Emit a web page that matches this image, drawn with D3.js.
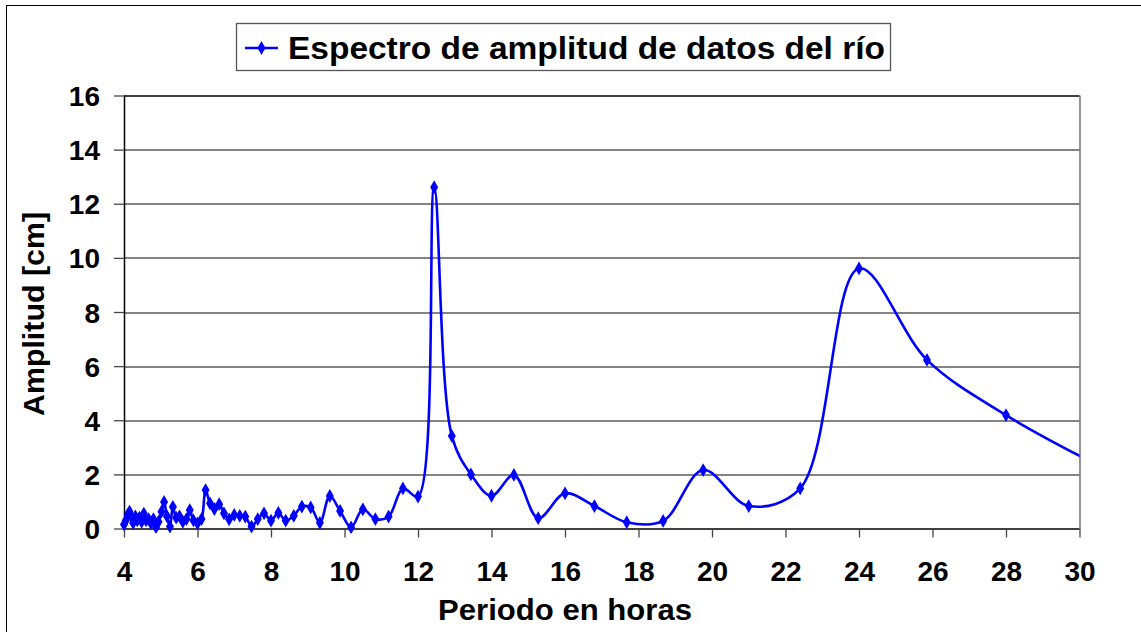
<!DOCTYPE html>
<html>
<head>
<meta charset="utf-8">
<script src="https://cdn.jsdelivr.net/npm/d3@7"></script>
<style>
  body { margin: 0; background: #fff; }
  svg text { font-family: "Liberation Sans", Arial, sans-serif; font-weight: bold; }
</style>
</head>
<body>
<div id="vis"></div>
<script>
var width = 1141,
  height = 632;

// periodo (horas) of each spectral point
var periods = [
  4.00, 4.05, 4.10, 4.15, 4.20, 4.25, 4.31, 4.36, 4.42, 4.48,
  4.54, 4.60, 4.67, 4.73, 4.80, 4.87, 4.94, 5.02, 5.09, 5.17,
  5.25, 5.33, 5.42, 5.51, 5.60, 5.70, 5.79, 5.89, 6.00, 6.11,
  6.22, 6.34, 6.46, 6.59, 6.72, 6.86, 7.00, 7.15, 7.30, 7.47,
  7.64, 7.81, 8.00, 8.20, 8.40, 8.62, 8.84, 9.08, 9.33, 9.60,
  9.88, 10.18, 10.50, 10.84, 11.20, 11.59, 12.00, 12.44, 12.92, 13.44,
  14.00, 14.61, 15.27, 16.00, 16.80, 17.68, 18.67, 19.76, 21.00, 22.40,
  24.00, 25.85, 28.00, 30.55
];
// amplitud (cm)
var amplitudes = [
  0.15, 0.30, 0.50, 0.62, 0.45, 0.20, 0.45, 0.30, 0.40, 0.25,
  0.55, 0.30, 0.35, 0.20, 0.35, 0.05, 0.25, 0.62, 0.98, 0.45,
  0.07, 0.80, 0.40, 0.45, 0.25, 0.35, 0.68, 0.30, 0.19, 0.35,
  1.42, 0.93, 0.72, 0.90, 0.56, 0.34, 0.50, 0.47, 0.44, 0.07,
  0.35, 0.56, 0.29, 0.58, 0.29, 0.47, 0.81, 0.78, 0.21, 1.20,
  0.65, 0.04, 0.71, 0.35, 0.44, 1.48, 1.18, 12.61, 3.42, 2.00,
  1.21, 1.98, 0.38, 1.30, 0.83, 0.23, 0.28, 2.16, 0.83, 1.48,
  9.61, 6.23, 4.19, 2.30
];

var xTicks = [4, 6, 8, 10, 12, 14, 16, 18, 20, 22, 24, 26, 28, 30];
var yTicks = [0, 2, 4, 6, 8, 10, 12, 14, 16];

var seriesName = "Espectro de amplitud de datos del río";
var xTitle = "Periodo en horas";
var yTitle = "Amplitud [cm]";

var data = periods.map((p, i) => ({ x: p, y: amplitudes[i] }));

var margin = { top: 95.5, right: 61.5, bottom: 103.5, left: 124 };
var plotW = width - margin.left - margin.right,
  plotH = height - margin.top - margin.bottom;

var svg = d3.select("#vis")
  .append("svg")
  .attr("width", width)
  .attr("height", height);

// outer chart frame
svg.append("rect")
  .attr("x", 6.5)
  .attr("y", 5.5)
  .attr("width", width + 20)
  .attr("height", height + 20)
  .style("fill", "#fff")
  .style("stroke", "#000")
  .attr("stroke-width", 1);

var x = d3.scaleLinear().domain([4, 30]).range([0, plotW]);
var y = d3.scaleLinear().domain([0, 16]).range([plotH, 0]);

var g = svg.append("g")
  .attr("transform", "translate(" + margin.left + "," + margin.top + ")");

// horizontal gridlines
g.append("g")
  .selectAll("line")
  .data(yTicks.filter(d => d > 0))
  .enter()
  .append("line")
  .attr("x1", 0)
  .attr("x2", plotW)
  .attr("y1", d => Math.round(y(d)) + 0.5)
  .attr("y2", d => Math.round(y(d)) + 0.5)
  .style("stroke", d => d === 16 ? "#000" : "#5a5a5a")
  .attr("stroke-width", 1.3);

// right edge of plot area
g.append("line")
  .attr("x1", plotW + 0.5)
  .attr("x2", plotW + 0.5)
  .attr("y1", 0)
  .attr("y2", plotH)
  .style("stroke", "#5a5a5a")
  .attr("stroke-width", 1.3);

// y axis
var yAxis = g.append("g")
  .call(d3.axisLeft(y).tickValues(yTicks).tickSize(10).tickPadding(14).tickFormat(d3.format("d")));
yAxis.select(".domain").style("stroke", "#000").attr("stroke-width", 1.5).attr("d", "M0.5,0V" + plotH);
yAxis.selectAll(".tick line").style("stroke", "#444").attr("stroke-width", 1.3);
yAxis.selectAll("text")
  .style("font-size", "28px")
  .style("fill", "#000")
  .attr("dy", "0.36em");

// x axis
var xAxis = g.append("g")
  .attr("transform", "translate(0," + plotH + ")")
  .call(d3.axisBottom(x).tickValues(xTicks).tickSize(9).tickPadding(24).tickFormat(d3.format("d")));
xAxis.select(".domain").style("stroke", "#000").attr("stroke-width", 1.5).attr("d", "M0,0.5H" + plotW);
xAxis.selectAll(".tick line").style("stroke", "#444").attr("stroke-width", 1.3);
xAxis.selectAll("text")
  .style("font-size", "28px")
  .style("fill", "#000");

// clip for the series
svg.append("defs").append("clipPath")
  .attr("id", "plotClip")
  .append("rect")
  .attr("x", -5)
  .attr("y", -5)
  .attr("width", plotW + 5)
  .attr("height", plotH + 10);

var series = g.append("g").attr("clip-path", "url(#plotClip)");

var line = d3.line()
  .x(d => x(d.x))
  .y(d => y(d.y))
  .curve(d3.curveCatmullRom.alpha(0.5));

series.append("path")
  .datum(data)
  .attr("d", line)
  .style("fill", "none")
  .style("stroke", "#0000ff")
  .attr("stroke-width", 2.6)
  .attr("stroke-linejoin", "round");

var diamond = d3.symbol().type(d3.symbolDiamond).size(55);

series.selectAll(".marker")
  .data(data)
  .enter()
  .append("path")
  .attr("class", "marker")
  .attr("d", diamond)
  .attr("transform", d => "translate(" + x(d.x) + "," + y(d.y) + ")")
  .style("fill", "#0000ff");

// legend
var legend = svg.append("g").attr("class", "legend");
legend.append("rect")
  .attr("x", 236.5)
  .attr("y", 23.5)
  .attr("width", 654)
  .attr("height", 47)
  .style("fill", "#fff")
  .style("stroke", "#555")
  .attr("stroke-width", 1.3);
legend.append("line")
  .attr("x1", 245)
  .attr("x2", 278)
  .attr("y1", 48)
  .attr("y2", 48)
  .style("stroke", "#0000ff")
  .attr("stroke-width", 2.6);
legend.append("path")
  .attr("d", diamond)
  .attr("transform", "translate(261.5,48)")
  .style("fill", "#0000ff");
legend.append("text")
  .attr("x", 288)
  .attr("y", 59)
  .attr("textLength", 597)
  .attr("lengthAdjust", "spacingAndGlyphs")
  .style("font-size", "31px")
  .style("fill", "#000")
  .text(seriesName);

// axis titles
svg.append("text")
  .attr("x", 438)
  .attr("y", 620)
  .attr("textLength", 254)
  .attr("lengthAdjust", "spacingAndGlyphs")
  .style("font-size", "30px")
  .style("fill", "#000")
  .text(xTitle);

svg.append("text")
  .attr("transform", "translate(44,416) rotate(-90)")
  .attr("textLength", 204)
  .attr("lengthAdjust", "spacingAndGlyphs")
  .style("font-size", "30px")
  .style("fill", "#000")
  .text(yTitle);
</script>
</body>
</html>
